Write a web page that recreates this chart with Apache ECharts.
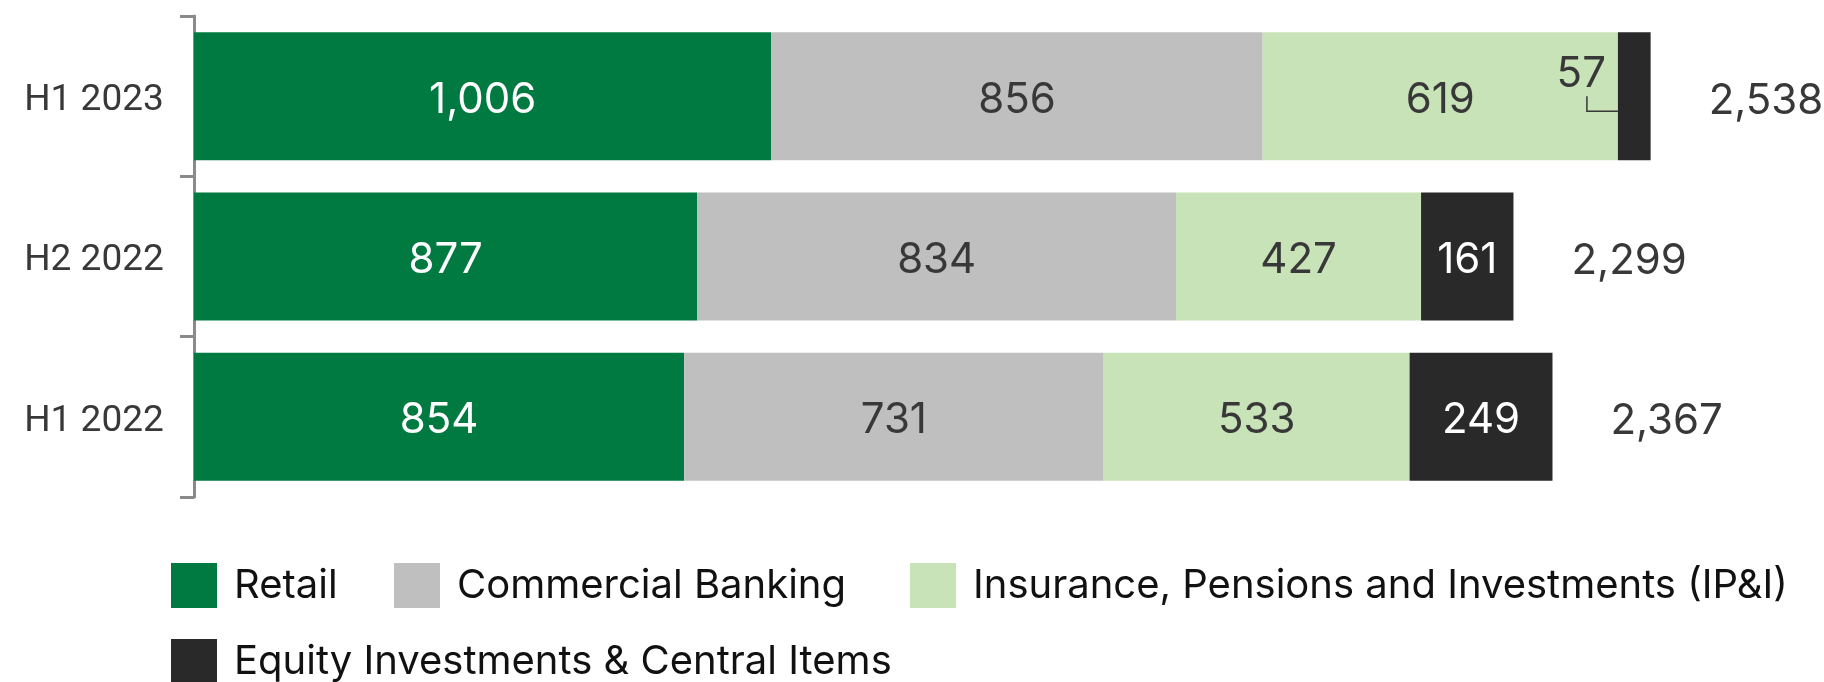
<!DOCTYPE html>
<html>
<head>
<meta charset="utf-8">
<script src="https://cdn.jsdelivr.net/npm/echarts@6/dist/echarts.min.js"></script>
<style>
  html, body { margin: 0; padding: 0; background: #fff; }
  #chart { width: 1824px; height: 682px; }
</style>
</head>
<body>
<div id="chart"></div>
<script>
const periods = ['H1 2023', 'H2 2022', 'H1 2022'];
const retail = [1006, 877, 854];
const commercial = [856, 834, 731];
const insurance = [619, 427, 533];
const equity = [57, 161, 249];
const names = [
  'Retail',
  'Commercial Banking',
  'Insurance, Pensions and Investments (IP&I)',
  'Equity Investments & Central Items'
];
const colors = ['#017a41', '#bfbfbf', '#c8e3b8', '#292929'];

const totals = periods.map((p, i) => retail[i] + commercial[i] + insurance[i] + equity[i]);
const fmt = v => Number(v).toLocaleString('en-US');

// the small equity segment (H1 2023) gets its label moved outside with a leader line
const leaderStart = [[retail[0] + commercial[0] + insurance[0], 0]];

const chart = echarts.init(document.getElementById('chart'));

function barSeries(name, data, color, labelColor) {
  return {
    name: name,
    type: 'bar',
    stack: 'all',
    data: data,
    barWidth: 128,
    barGap: '-100%',
    itemStyle: { color: color },
    label: {
      show: true,
      position: 'inside',
      offset: [0, 4],
      fontFamily: 'Inter',
      fontSize: 42,
      color: labelColor,
      formatter: p => fmt(p.value)
    },
    silent: true
  };
}

// square swatch plus an invisible tail so the text sits a bit further right
const swatch = 'path://M0,0H46V45H0ZM58,45L58,44.99';

function legendAt(name, left, top) {
  return {
    left: left,
    top: top,
    padding: 0,
    itemWidth: 58,
    itemHeight: 45,
    icon: swatch,
    selectedMode: false,
    textStyle: { fontFamily: 'Inter', fontSize: 40, color: '#111' },
    data: [name]
  };
}

const option = {
  animation: false,
  textStyle: { fontFamily: 'Inter' },
  grid: {
    left: 194,
    top: 16,
    height: 481,
    width: 1607,
    outerBoundsMode: 'none'
  },
  legend: [
    legendAt(names[0], 171, 563),
    legendAt(names[1], 394, 563),
    legendAt(names[2], 910, 563),
    legendAt(names[3], 171, 639)
  ],
  xAxis: {
    type: 'value',
    min: 0,
    max: 2800,
    show: false
  },
  yAxis: {
    type: 'category',
    inverse: true,
    data: periods,
    axisLine: { show: true, lineStyle: { color: '#8a8a8a', width: 3 } },
    axisTick: { show: true, inside: false, length: 14, lineStyle: { color: '#8a8a8a', width: 3 } },
    axisLabel: {
      margin: 100,
      align: 'center',
      formatter: v => '{p|' + v + '}',
      rich: {
        p: { fontFamily: 'Roboto', fontSize: 37, color: '#383838', padding: [9, 0, 0, 0] }
      }
    }
  },
  series: [
    barSeries(names[0], retail, colors[0], '#fff'),
    barSeries(names[1], commercial, colors[1], '#383838'),
    barSeries(names[2], insurance, colors[2], '#383838'),
    barSeries(names[3], equity.map((v, i) => i === 0
      ? { value: v, label: { offset: [-53, -22], color: '#383838' } }
      : v), colors[3], '#fff'),
    {
      name: 'Total',
      type: 'bar',
      data: totals,
      barWidth: 128,
      barGap: '-100%',
      itemStyle: { color: 'rgba(0,0,0,0)' },
      label: {
        show: true,
        position: 'right',
        distance: 58,
        offset: [0, 5],
        fontFamily: 'Inter',
        fontSize: 42,
        color: '#383838',
        formatter: p => fmt(p.value)
      },
      silent: true,
      z: 1
    },
    {
      name: 'leader',
      type: 'custom',
      data: leaderStart,
      encode: { x: 0, y: 1 },
      silent: true,
      z: 5,
      renderItem: (params, api) => {
        const pt = api.coord([api.value(0), api.value(1)]);
        return {
          type: 'polyline',
          shape: { points: [[pt[0] - 31, pt[1]], [pt[0] - 31, pt[1] + 15], [pt[0], pt[1] + 15]] },
          style: { stroke: '#383838', lineWidth: 1.5, fill: null }
        };
      }
    }
  ]
};

chart.setOption(option);
</script>
</body>
</html>
